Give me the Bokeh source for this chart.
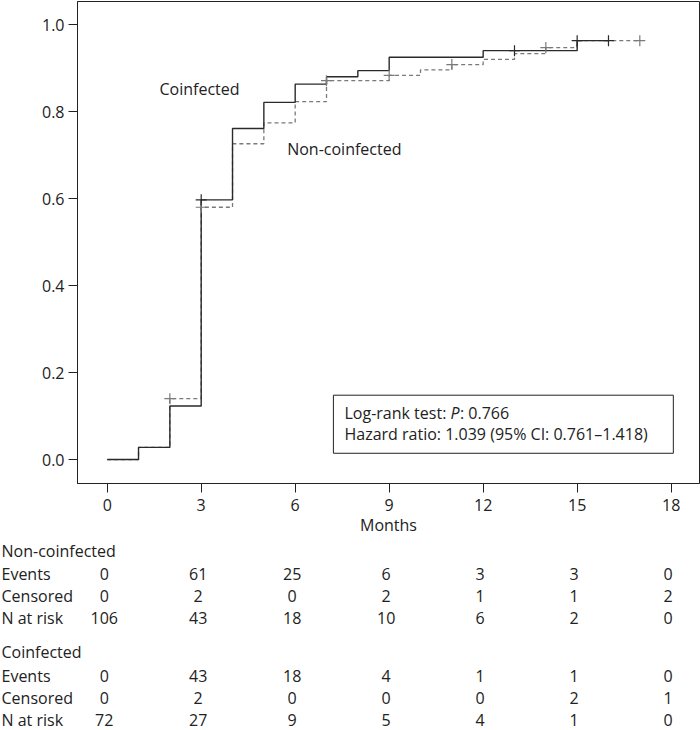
from bokeh.plotting import figure
from bokeh.models import (ColumnDataSource, Range1d, FixedTicker, Label,
                          BoxAnnotation, NumeralTickFormatter)
from bokeh.layouts import column
from bokeh.core.properties import value
from bokeh.embed import file_html
from bokeh.resources import INLINE

FONT = "Open Sans"
TXT = "#222222"

# ---------------- data ----------------
nc_months = [0, 1, 2, 3, 4, 5, 6, 7, 9, 10, 11, 12, 13, 14, 15, 17]
nc_prop = [0.0, 0.028, 0.140, 0.580, 0.726, 0.774, 0.823, 0.871, 0.883,
           0.896, 0.908, 0.920, 0.933, 0.947, 0.963, 0.963]
co_months = [0, 1, 2, 3, 4, 5, 6, 7, 8, 9, 12, 15, 16]
co_prop = [0.0, 0.028, 0.123, 0.597, 0.761, 0.821, 0.863, 0.880, 0.894,
           0.925, 0.940, 0.963, 0.963]
nc_cens_months = [2, 3, 7, 9, 11, 14, 17]
nc_cens_prop = [0.140, 0.580, 0.871, 0.883, 0.908, 0.947, 0.963]
co_cens_months = [3, 13, 15, 16]
co_cens_prop = [0.597, 0.940, 0.963, 0.963]

x_ticks = [0, 3, 6, 9, 12, 15, 18]
y_ticks = [0.0, 0.2, 0.4, 0.6, 0.8, 1.0]

table_cols = [0, 3, 6, 9, 12, 15, 18]
nc_events = [0, 61, 25, 6, 3, 3, 0]
nc_censored = [0, 2, 0, 2, 1, 1, 2]
nc_at_risk = [106, 43, 18, 10, 6, 2, 0]
co_events = [0, 43, 18, 4, 1, 1, 0]
co_censored = [0, 2, 0, 0, 0, 2, 1]
co_at_risk = [72, 27, 9, 5, 4, 1, 0]

group_names = ["Non-coinfected", "Coinfected"]
row_names = ["Events", "Censored", "N at risk"]
stat_line1 = ["Log-rank test: ", "P", ": 0.766"]
stat_line2 = "Hazard ratio: 1.039 (95% CI: 0.761\u20131.418)"

# ---------------- layout ----------------
W, H_TOP, H_ALL = 700, 538, 730
BL, BR, BT = 77, 1, 1
FRAME_H = 482
BB = H_TOP - BT - FRAME_H
X0, X1 = -0.948, 18.905
Y0, Y1 = -0.055, 1.053
px_per = (W - BL - BR) / (X1 - X0)
T0 = X0 - BL / px_per
T1 = X1 + BR / px_per

p = figure(width=W, height=H_TOP, output_backend="svg", toolbar_location=None,
           x_range=Range1d(X0, X1), y_range=Range1d(Y0, Y1),
           min_border_left=BL, min_border_right=BR, min_border_top=BT,
           min_border_bottom=BB, background_fill_color="white",
           border_fill_color="white")
p.frame_align = False
p.grid.visible = False
p.outline_line_color = TXT
p.outline_line_width = 1

for ax in (p.xaxis, p.yaxis):
    ax.major_tick_in = 0
    ax.major_tick_out = 9
    ax.minor_tick_out = 0
    ax.minor_tick_in = 0
    ax.axis_line_color = TXT
    ax.major_tick_line_color = TXT
    ax.major_label_text_font = FONT
    ax.major_label_text_font_size = "16px"
    ax.major_label_text_color = TXT
p.xaxis.major_label_standoff = 6
p.yaxis.major_label_standoff = 4
p.xaxis.ticker = FixedTicker(ticks=x_ticks)
p.yaxis.ticker = FixedTicker(ticks=y_ticks)
p.yaxis.formatter = NumeralTickFormatter(format="0.0")
p.xaxis.axis_label = "Months"
p.xaxis.axis_label_text_font = FONT
p.xaxis.axis_label_text_font_size = "16px"
p.xaxis.axis_label_text_font_style = "normal"
p.xaxis.axis_label_text_color = TXT
p.xaxis.axis_label_standoff = 0

DASH_COL = "#7a7a7a"
SOLID_COL = "#2a2a2a"

p.step(x=nc_months, y=nc_prop, mode="after", line_color=DASH_COL,
       line_width=1.3, line_dash="4 3")
p.step(x=co_months, y=co_prop, mode="after", line_color=SOLID_COL,
       line_width=1.4)
p.scatter(x=nc_cens_months, y=nc_cens_prop, marker="cross", size=11,
          line_color=DASH_COL, line_width=1.2)
p.scatter(x=co_cens_months, y=co_cens_prop, marker="cross", size=11,
          line_color=SOLID_COL, line_width=1.2)

lab_kw = dict(text_font=FONT, text_font_size="16px", text_color=TXT,
              text_baseline="middle", text_align="left")
p.add_layout(Label(x=1.67, y=0.852, text=group_names[1], **lab_kw))
p.add_layout(Label(x=5.745, y=0.714, text=group_names[0], **lab_kw))

p.add_layout(BoxAnnotation(left=7.22, right=18.07, bottom=0.0145, top=0.148,
                           fill_color="white", fill_alpha=1.0,
                           line_color="#222222", line_alpha=1.0,
                           line_width=1))
bx, y1, y2 = 7.574, 0.107, 0.058
p.add_layout(Label(x=bx, y=y1, text=stat_line1[0], **lab_kw))
p.add_layout(Label(x=bx, y=y1, x_offset=106, text=stat_line1[1],
                   text_font_style="italic", **lab_kw))
p.add_layout(Label(x=bx, y=y1, x_offset=115.5, text=stat_line1[2], **lab_kw))
p.add_layout(Label(x=bx, y=y2, text=stat_line2, **lab_kw))

# ---------------- risk table (own figure, same month scale) ----------------
t = figure(width=W, height=H_ALL - H_TOP, output_backend="svg",
           toolbar_location=None, x_range=Range1d(T0, T1),
           y_range=Range1d(H_ALL, H_TOP), x_axis_location=None,
           y_axis_location=None, min_border=0,
           background_fill_color="white", border_fill_color="white")
t.frame_align = False
t.grid.visible = False
t.outline_line_color = None

# vertical positions (page pixels) of the table rows
group_py = [550, 651]
rows_py = [[573, 595, 617], [675, 697, 719]]
group_vals = [[nc_events, nc_censored, nc_at_risk],
              [co_events, co_censored, co_at_risk]]

lx, ly, lt = [], [], []
nx, ny, nt = [], [], []
for g in range(2):
    lx.append(T0)
    ly.append(group_py[g])
    lt.append(group_names[g])
    for r in range(3):
        lx.append(T0)
        ly.append(rows_py[g][r])
        lt.append(row_names[r])
        for c, v in zip(table_cols, group_vals[g][r]):
            nx.append(c)
            ny.append(rows_py[g][r])
            nt.append(str(v))

t.text(x="x", y="y", text="t", source=ColumnDataSource(dict(x=lx, y=ly, t=lt)),
       x_offset=1, text_font=value(FONT), text_font_size="16px",
       text_color=TXT, text_align="left", text_baseline="middle")
t.text(x="x", y="y", text="t", source=ColumnDataSource(dict(x=nx, y=ny, t=nt)),
       x_offset=-3, text_font=value(FONT), text_font_size="16px",
       text_color=TXT, text_align="center", text_baseline="middle")

layout = column(p, t, spacing=0)
open("out.html", "w").write(file_html(layout, INLINE))
